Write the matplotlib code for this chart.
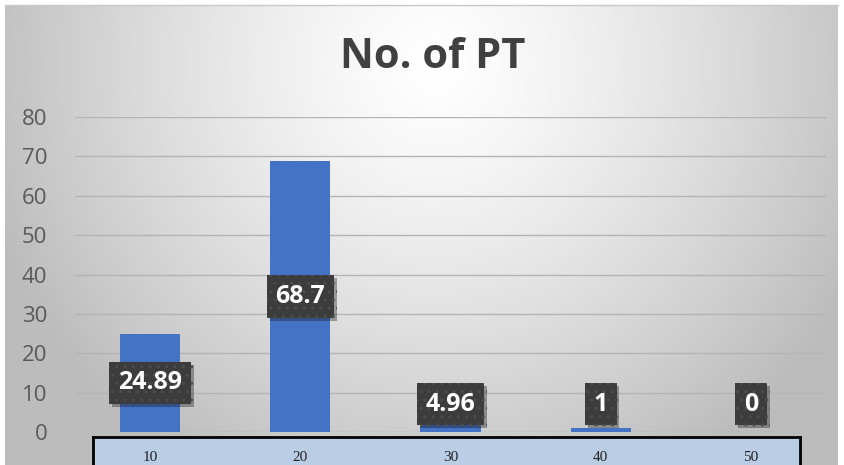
import numpy as np
import matplotlib
matplotlib.use('Agg')
import matplotlib.pyplot as plt
from matplotlib.patches import Rectangle
import matplotlib.patheffects as pe

categories = ['10', '20', '30', '40', '50']
values = [24.89, 68.7, 4.96, 1, 0]
labels = ['24.89', '68.7', '4.96', '1', '0']
yticks = [0, 10, 20, 30, 40, 50, 60, 70, 80]

W, H = 845, 465
fig = plt.figure(figsize=(W / 100, H / 100), dpi=100)
fig.patch.set_facecolor('white')

# radial gray background (Excel style)
bg = fig.add_axes([5 / W, 0, 833 / W, 460 / H], zorder=-10)
yy, xx = np.mgrid[0:460, 0:833]
r = np.sqrt(((xx - 430) / 520.0) ** 2 + ((yy - 60) / 520.0) ** 2)
shade = np.clip(1.0 - 0.30 * r ** 1.3, 0.74, 1.0)
bg.imshow(np.dstack([shade] * 3), aspect='auto', interpolation='bilinear')
bg.axis('off')
fig.add_artist(plt.Line2D([5 / W, 838 / W], [1 - 5 / H, 1 - 5 / H], color='#c8c8c8', lw=1))

# category table strip, behind the plot axes
strip = fig.add_axes([93 / W, 0, 707 / W, 28 / H], zorder=-5)
strip.set_facecolor('#b9cde5')
strip.set_xticks([])
strip.set_yticks([])
for s in strip.spines.values():
    s.set_linewidth(2)
    s.set_color('black')
strip.spines['bottom'].set_visible(False)

ax = fig.add_axes([75 / W, 1 - 432 / H, 751 / W, 315 / H])
ax.patch.set_alpha(0)
x = np.arange(len(categories))
ax.bar(x, values, width=0.4, color='#4472c4', zorder=2)
ax.set_xlim(-0.5, len(categories) - 0.5)
ax.set_ylim(0, 80)
ax.set_yticks(yticks)
ax.grid(axis='y', color='#b4b4b4', lw=1, zorder=0)
for s in ax.spines.values():
    s.set_visible(False)
ax.tick_params(axis='y', length=0, pad=20, labelsize=16, labelcolor='#595959')
for t in ax.get_yticklabels():
    t.set_fontfamily('Open Sans')
ax.set_xticks(x)
ax.set_xticklabels(categories, fontfamily='Liberation Serif', fontsize=11, color='#222222')
ax.tick_params(axis='x', length=0, pad=14)

# data labels
for xi, v, lab in zip(x, values, labels):
    yc = max(v / 2, 7.1)
    t = ax.text(xi, yc, lab, ha='center', va='center', color='white', fontsize=18,
                fontweight='bold', fontfamily='Open Sans', zorder=5,
                bbox=dict(boxstyle='square,pad=0.35', facecolor='#3c3c3c',
                          edgecolor='#4c4c4c', hatch='..', lw=0))
    t.get_bbox_patch().set_path_effects([pe.SimplePatchShadow(offset=(2, -2), alpha=0.35), pe.Normal()])

fig.text(433 / W, 1 - 57 / H, 'No. of PT', ha='center', va='center', fontsize=30,
         fontweight='bold', fontfamily='Open Sans', color='#404040')

fig.savefig('out.png', dpi=100)
